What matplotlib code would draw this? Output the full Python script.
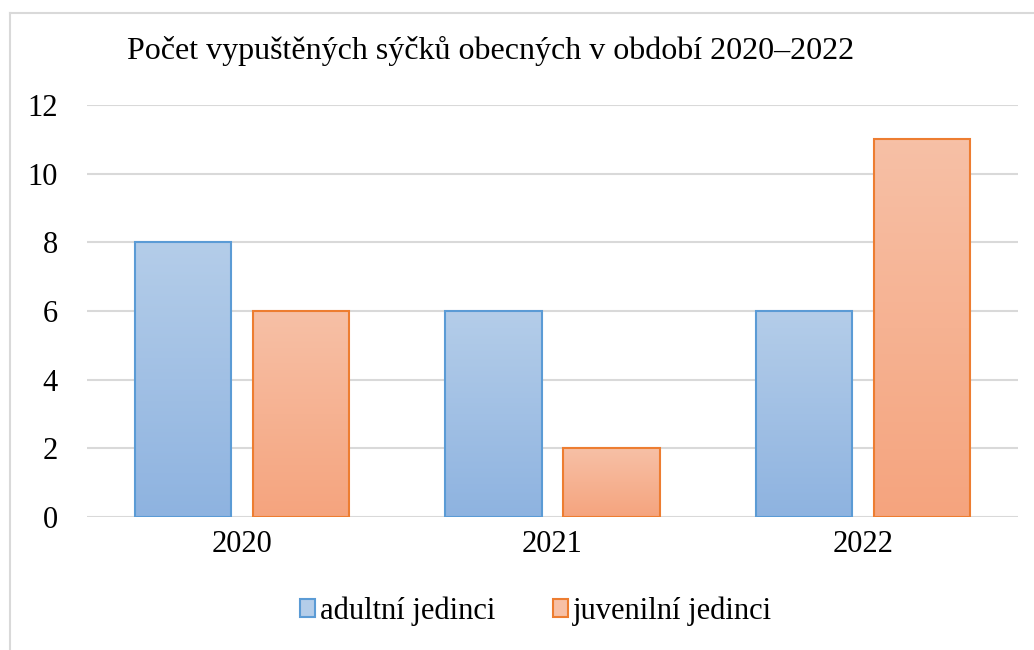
import numpy as np
import matplotlib
matplotlib.use("Agg")
import matplotlib.pyplot as plt
from matplotlib.patches import Patch
from matplotlib.lines import Line2D

plt.rcParams['font.family'] = ['Liberation Serif', 'DejaVu Serif']

roky = ['2020', '2021', '2022']
adultni = [8, 6, 6]
juvenilni = [6, 2, 11]
nazvy = ['adultní jedinci', 'juvenilní jedinci']

barvy_horni = ['#b4cde9', '#f7c0a6']
barvy_dolni = ['#8eb3e0', '#f5a47e']
barvy_okraj = ['#5b9bd5', '#ed7d31']

fig = plt.figure(figsize=(10.34, 6.5), dpi=100)
ax = fig.add_axes([87 / 1034, 1 - 517 / 650, (1018 - 87) / 1034, (517 - 105) / 650])

x = np.arange(len(roky))
sirka = 0.31
posun = 0.19


def gradient(c1, c2):
    a = np.array(matplotlib.colors.to_rgb(c1))
    b = np.array(matplotlib.colors.to_rgb(c2))
    t = np.linspace(0, 1, 100)[:, None]
    return (a * (1 - t) + b * t)[:, None, :]


for i, serie in enumerate([adultni, juvenilni]):
    img = gradient(barvy_horni[i], barvy_dolni[i])
    pozice = x + (-posun if i == 0 else posun)
    for xp, v in zip(pozice, serie):
        ax.imshow(img, extent=[xp - sirka / 2, xp + sirka / 2, 0, v],
                  aspect='auto', origin='upper', zorder=2)
    ax.bar(pozice, serie, sirka, fill=False, edgecolor=barvy_okraj[i],
           linewidth=1.5, zorder=3)

ax.set_xlim(-0.5, 2.5)
ax.set_ylim(0, 12)
ax.set_yticks(range(0, 13, 2))
ax.set_xticks(x)
ax.set_xticklabels(roky)
ax.grid(axis='y', color='#d9d9d9', linewidth=1.5, zorder=0)
ax.set_axisbelow(True)
for s in ax.spines.values():
    s.set_visible(False)
ax.tick_params(axis='both', length=0, labelsize=22, colors='black')
ax.tick_params(axis='y', pad=21)
ax.tick_params(axis='x', pad=9)

fig.text(491 / 1034, 1 - 51 / 650, 'Počet vypuštěných sýčků obecných v období 2020–2022',
         ha='center', va='center', fontsize=23)

handles = [Patch(facecolor=barvy_horni[i], edgecolor=barvy_okraj[i], linewidth=1.5)
           for i in range(2)]
fig.legend(handles, nazvy, loc='center', bbox_to_anchor=(536 / 1034, 1 - 611 / 650),
           ncol=2, frameon=False, fontsize=22, handlelength=0.5, handleheight=0.5,
           handletextpad=0.15, columnspacing=1.9)

# okraj grafu
fig.add_artist(Line2D([10 / 1034, 1], [1 - 13 / 650, 1 - 13 / 650],
                      transform=fig.transFigure, color='#d9d9d9', linewidth=1.5))
fig.add_artist(Line2D([10 / 1034, 10 / 1034], [0, 1 - 13 / 650],
                      transform=fig.transFigure, color='#d9d9d9', linewidth=1.5))

fig.savefig('out.png', dpi=100)
